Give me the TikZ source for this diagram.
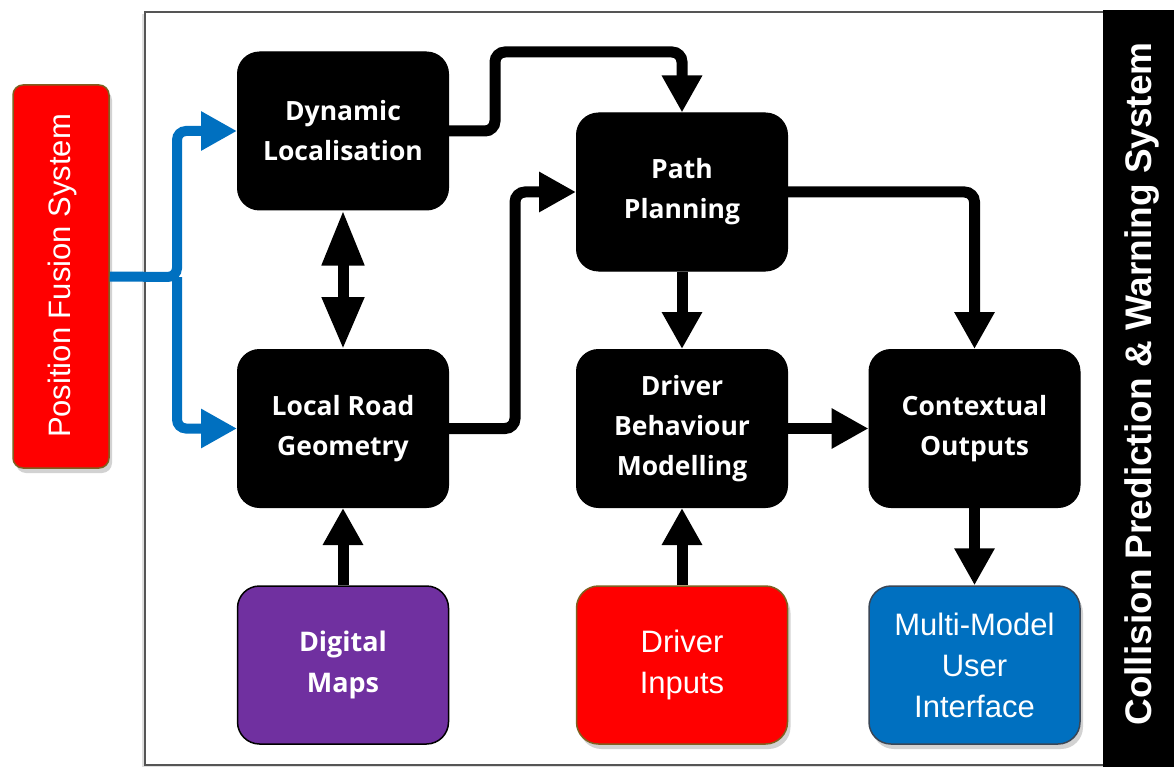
\documentclass[tikz,border=0pt]{standalone}
\usepackage{fontspec}
\setmainfont{Liberation Sans}
\newfontfamily\blockfont{Open Sans}
\usetikzlibrary{arrows.meta,shadows}

\definecolor{fusionred}{HTML}{FF0000}
\definecolor{olive}{HTML}{7F6020}
\definecolor{mapviolet}{HTML}{7030A0}
\definecolor{uiblue}{HTML}{0070C0}
\definecolor{uiedge}{HTML}{3A4656}
\definecolor{framegray}{HTML}{555555}

\tikzset{
  block/.style={draw=black, fill=black, line width=1pt, rounded corners=22pt,
    minimum width=211pt, minimum height=158pt, align=center, text=white,
    font=\blockfont\bfseries\fontsize{26.5}{40}\selectfont},
  srcbox/.style={rounded corners=22pt, line width=1.5pt,
    minimum width=211pt, minimum height=158pt, align=center, text=white,
    font=\fontsize{31}{41}\selectfont},
  softshadow/.style={drop shadow={opacity=0.35, shadow xshift=3pt, shadow yshift=-5pt}},
  conn/.style={draw=black, line width=11pt, rounded corners=10pt,
    -{Triangle[length=37pt,width=38pt]}},
  feed/.style={draw=uiblue, line width=10pt, rounded corners=9pt,
    -{Triangle[length=36pt,width=37pt]}},
}

\begin{document}
\begin{tikzpicture}[x=1pt,y=-1pt]
  % canvas
  \fill[white] (0,0) rectangle (1174,767);
  \useasboundingbox (0,0) rectangle (1174,767);

  % system frame and title bar
  \draw[framegray, line width=1.3pt, fill=white,
        drop shadow={opacity=0.25, shadow xshift=-3pt, shadow yshift=-2pt}]
        (145,12) rectangle (1174,765);
  \fill[black] (1103,10) rectangle (1174,767);
  \node[rotate=90, text=white, font=\bfseries\fontsize{37}{42}\selectfont]
        (title) at (1142,384) {Collision Prediction \& Warning System};

  % external source on the left
  \node[draw=olive, fill=fusionred, line width=1.5pt, rounded corners=10pt,
        minimum width=96pt, minimum height=383pt, softshadow] (pfs) at (61,276.5) {};
  \node[rotate=90, text=white, font=\fontsize{31}{36}\selectfont]
        (pfslabel) at (62,276) {Position Fusion System};

  % processing blocks
  \node[block] (dl)  at (343,131)   {Dynamic\\Localisation};
  \node[block] (lrg) at (343,428.5) {Local Road\\Geometry};
  \node[block] (pp)  at (682,192)   {Path\\Planning};
  \node[block] (dbm) at (682,428.5) {Driver\\Behaviour\\Modelling};
  \node[block] (co)  at (974.5,428.5) {Contextual\\Outputs};

  % inputs and outputs
  \node[srcbox, draw=black, fill=mapviolet,
        font=\blockfont\bfseries\fontsize{27}{41}\selectfont] (dm) at (343,665) {Digital\\Maps};
  \node[srcbox, draw=olive, fill=fusionred, softshadow] (di) at (682,665) {Driver\\Inputs};
  \node[srcbox, draw=uiedge, fill=uiblue, softshadow] (ui) at (974.5,665) {Multi-Model\\User\\Interface};

  % routing points
  \coordinate (split)   at (177,277);
  \coordinate (dlturn)  at (495,52);
  \coordinate (lrgturn) at (515,192);

  % position feed
  \draw[feed] (pfs.east) -- (split) |- (dl.west);
  \draw[feed] (split) |- (lrg.west);

  % data flow
  \draw[conn] (dl.east) -| (dlturn) -| (pp.north);
  \draw[conn] (lrg.east) -| (lrgturn) -- (pp.west);
  \draw[conn] (pp.east) -| (co.north);
  \draw[conn] (pp.south) -- (dbm.north);
  \draw[conn] (dbm.east) -- (co.west);
  \draw[conn] (co.south) -- (ui.north);
  \draw[conn] (di.north) -- (dbm.south);
  \draw[conn] (dm.north) -- (lrg.south);
  \draw[draw=black, line width=11pt,
        {Triangle[length=55pt,width=40pt]}-{Triangle[length=52pt,width=40pt]}]
        (dl.south) -- (lrg.north);
\end{tikzpicture}
\end{document}
